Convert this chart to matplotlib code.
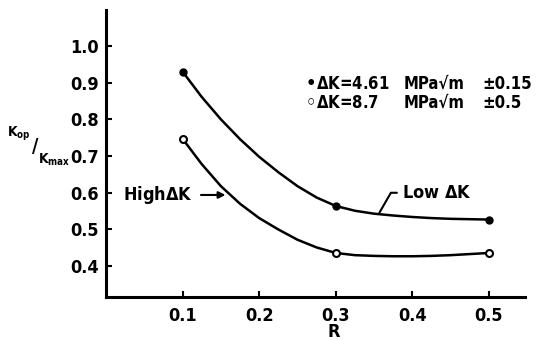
import matplotlib
matplotlib.use("Agg")
import matplotlib.pyplot as plt
from matplotlib import font_manager

# police étroite si disponible
fichiers = [f for f in font_manager.fontManager.ttflist
            if 'Narrow' in f.fname or 'Condensed' in f.fname]
plt.rcParams['font.family'] = ['DejaVu Sans']
if fichiers:
    plt.rcParams['font.stretch'] = 'condensed'
plt.rcParams['font.weight'] = 'bold'
plt.rcParams['mathtext.default'] = 'regular'
taille = 13 if fichiers else 12

# points mesurés
R_points = [0.1, 0.3, 0.5]
K_low = [0.93, 0.564, 0.527]     # dK = 4.61 MPa sqrt(m)
K_high = [0.747, 0.436, 0.436]   # dK = 8.7 MPa sqrt(m)

# courbes tracées à la main
R_courbe = [0.100, 0.125, 0.150, 0.175, 0.200, 0.225, 0.250, 0.275, 0.300,
            0.325, 0.350, 0.375, 0.400, 0.425, 0.450, 0.475, 0.500]
courbe_low = [0.930, 0.861, 0.800, 0.746, 0.698, 0.656, 0.618, 0.587, 0.564,
              0.551, 0.543, 0.538, 0.534, 0.531, 0.529, 0.528, 0.527]
courbe_high = [0.747, 0.678, 0.618, 0.570, 0.531, 0.500, 0.472, 0.451, 0.436,
               0.430, 0.428, 0.427, 0.427, 0.428, 0.430, 0.433, 0.436]

yticks = [0.4, 0.5, 0.6, 0.7, 0.8, 0.9, 1.0]
xticks = [0.1, 0.2, 0.3, 0.4, 0.5]

W, H = 536, 340
fig = plt.figure(figsize=(W/100, H/100), dpi=100)
ax = fig.add_axes([106/W, 1-297/H, (525-106)/W, (297-10)/H])

ax.plot(R_courbe, courbe_low, color='black', lw=1.8)
ax.plot(R_courbe, courbe_high, color='black', lw=1.8)
ax.plot(R_points, K_low, 'o', color='black', ms=5)
ax.plot(R_points, K_high, 'o', mfc='white', mec='black', mew=1.5, ms=5)

ax.set_xlim(0.0, 0.547)
ax.set_ylim(0.316, 1.098)
ax.set_xticks(xticks)
ax.set_xticklabels([f'{v:.1f}' for v in xticks])
ax.set_yticks(yticks)
ax.set_yticklabels([f'{v:.1f}' for v in yticks])
ax.tick_params(direction='in', length=4, width=1.5, labelsize=taille)
ax.tick_params(axis='x', pad=7)
ax.tick_params(axis='y', pad=5)
for s in ['top', 'right']:
    ax.spines[s].set_visible(False)
for s in ['left', 'bottom']:
    ax.spines[s].set_linewidth(2.2)

# étiquettes des axes
fig.text(334/W, 1-332/H, 'R', ha='center', va='center', fontsize=taille)
fig.text(7/W, 1-134/H, '$K_{op}$', fontsize=10, ha='left', va='center')
fig.text(32/W, 1-147/H, '/', fontsize=14, ha='left', va='center')
fig.text(38/W, 1-160/H, '$K_{max}$', fontsize=10, ha='left', va='center')

# annotations
ax.annotate('High$\\Delta$K', xy=(0.156, 0.594), xytext=(0.022, 0.594),
            fontsize=taille, va='center', ha='left',
            arrowprops=dict(arrowstyle='-|>', color='black', lw=1.5,
                            shrinkA=4, shrinkB=0, mutation_scale=10,
                            relpos=(1.0, 0.5)))
ax.annotate('Low $\\Delta$K', xy=(0.357, 0.546), xytext=(0.387, 0.600),
            fontsize=taille, va='center', ha='left',
            arrowprops=dict(arrowstyle='-', color='black', lw=1.5,
                            shrinkA=2, shrinkB=0, relpos=(0.0, 0.5),
                            connectionstyle='angle,angleA=180,angleB=60,rad=0'))

# légende
lignes = [('\u2022', '$\\Delta$K=4.61', '\u00b10.15', 84),
          ('\u25e6', '$\\Delta$K=8.7', '\u00b10.5', 103)]
for puce, dk, err, y in lignes:
    fig.text(306/W, 1-y/H, puce, fontsize=taille, va='center', ha='left')
    fig.text(316/W, 1-y/H, dk, fontsize=taille - 1, va='center', ha='left')
    fig.text(404/W, 1-y/H, 'MPa\u221am', fontsize=taille - 1, va='center', ha='left')
    fig.text(482/W, 1-y/H, err, fontsize=taille - 1, va='center', ha='left')

fig.savefig('out.png', dpi=100)
